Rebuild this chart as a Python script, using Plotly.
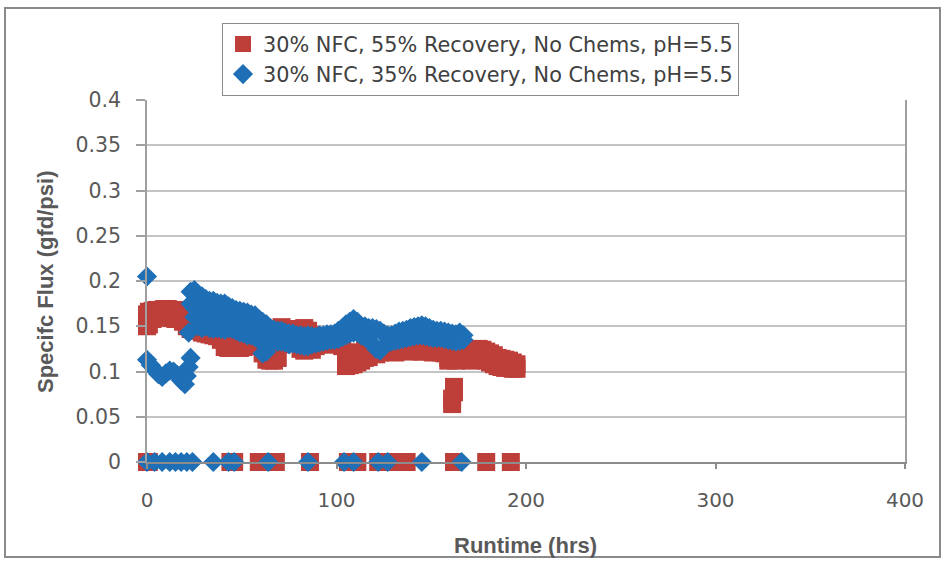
import plotly.graph_objects as go

# ---------------- data ----------------
series_names = ["30% NFC, 55% Recovery, No Chems, pH=5.5",
                "30% NFC, 35% Recovery, No Chems, pH=5.5"]

# Red series (55% recovery): runtimes with zero flux (shutdowns)
red_zero_hours = [0, 1, 44, 46, 59, 68, 86, 106, 111, 122, 125, 133, 137, 162, 179, 192]
# Red series: runtime -> specific flux readings
red_hours = [0, 1, 3, 5, 7, 9, 11, 13, 15, 17, 19, 21, 23, 25, 27, 29, 31, 33, 35, 37, 39,
             41, 43, 45, 47, 49, 51, 53, 55, 57, 59, 61, 63, 65, 67, 69, 71, 73, 75, 77, 79,
             81, 83, 85, 87, 89, 91, 93, 95, 97, 99, 101, 103, 105, 107, 109, 111, 113, 115,
             117, 119, 121, 123, 125, 127, 129, 131, 133, 135, 137, 139, 141, 143, 145, 147,
             149, 151, 153, 155, 157, 159, 161, 162, 163, 165, 167, 169, 171, 173, 175, 177,
             179, 181, 183, 185, 187, 189, 191, 193, 195]
red_flux = [[.150, .157, .163], [.152, .166], [.158, .167], [.160, .168], [.160, .168],
            [.161, .169], [.160, .169], [.159, .168], [.158, .168], [.158, .167], [.155, .165],
            [.150, .160], [.147, .157], [.145, .155], [.147], [.150, .143], [.142], [.141],
            [.140], [.139], [.135],
            [.127, .135], [.126, .134], [.126, .135], [.127, .136], [.126, .135], [.127, .134],
            [.128, .136], [.130, .140], [.132, .142], [.134, .145], [.120, .130], [.113, .125],
            [.112, .125], [.112, .122], [.115, .130], [.130, .149], [.135, .147], [.134],
            [.135], [.136],
            [.125, .147], [.123, .148], [.125, .145], [.124, .140], [.128, .135], [.130],
            [.130], [.131], [.130], [.131], [.130], [.128], [.106, .121], [.107, .120],
            [.108, .121], [.110, .120], [.112, .118], [.115, .123],
            [.116, .122], [.121], [.119], [.121], [.122], [.123], [.122], [.121], [.123],
            [.124], [.123], [.122], [.123], [.124], [.122], [.123],
            [.122], [.121], [.122], [.121], [.120], [.112, .115], [.113, .064, .070],
            [.077, .083], [.112], [.113], [.115], [.118], [.112, .122], [.114, .124],
            [.115, .125], [.113, .124],
            [.112, .122], [.110, .120], [.108, .118], [.106, .115], [.105, .114], [.104, .113],
            [.104, .112], [.103, .110], [.103, .108]]

# Blue series (35% recovery)
blue_zero_hours = [0, 4, 8, 12, 15, 18, 21, 24, 35, 43, 46, 64, 85, 104, 109, 122, 127, 145, 166]
blue_hours = [0, 2, 4, 6, 8, 10, 12, 14, 16, 18, 20, 21, 22, 23, 25, 27, 29, 31, 33, 35, 37,
              39, 41, 43, 45, 47, 49, 51, 53, 55, 57, 59, 61, 63, 65, 67, 69, 71, 73, 75, 77,
              79, 81, 83, 85, 87, 89, 91, 93, 95, 97, 99, 101, 103, 105, 107, 109, 111, 113,
              115, 117, 119, 121, 123, 125, 127, 129, 131, 133, 135, 137, 139, 141, 143, 145,
              147, 149, 151, 153, 155, 157, 159, 161, 163, 165, 167]
blue_flux = [[.205, .113], [.107], [.102], [.097], [.094], [.098], [.101], [.100], [.096],
             [.090], [.086], [.095], [.105, .143], [.115, .188, .175], [.190, .170, .160],
             [.185, .165, .150], [.183, .160, .148], [.180, .165, .150], [.178, .160, .148],
             [.178, .162, .147], [.176, .160, .148],
             [.175, .160, .147], [.175, .160, .146], [.172, .158, .148], [.170, .155, .147],
             [.168, .155, .145], [.167, .153, .143], [.166, .152, .142], [.165, .150, .140],
             [.163, .150, .140], [.162, .148, .138], [.158, .145, .135], [.155, .135, .120],
             [.152, .130, .122], [.148, .135], [.146, .135], [.145, .133], [.145, .133],
             [.143, .132], [.142, .130], [.142, .131],
             [.140, .130], [.140, .129], [.139, .128], [.140, .128], [.139, .130],
             [.138, .131], [.140, .132], [.140, .133], [.141, .134], [.141, .135],
             [.142, .135], [.145, .136], [.148, .138], [.152, .140], [.155, .142],
             [.158, .143], [.155, .143], [.150, .140],
             [.150, .138], [.148, .135], [.148, .130], [.147, .125], [.145, .123],
             [.142, .128], [.140, .132], [.140, .133], [.142, .134], [.144, .135],
             [.145, .136], [.146, .137], [.148, .138], [.149, .139], [.150, .140],
             [.151, .140],
             [.150, .139], [.148, .138], [.146, .137], [.145, .137], [.145, .137],
             [.144, .136], [.143, .135], [.142, .134], [.141, .133], [.143, .134],
             [.140, .135]]

x_ticks = [0, 100, 200, 300, 400]
y_ticks = [0, 0.05, 0.1, 0.15, 0.2, 0.25, 0.3, 0.35, 0.4]
y_tick_text = ["0", "0.05", "0.1", "0.15", "0.2", "0.25", "0.3", "0.35", "0.4"]

colors = ["#BE3F3A", "#1E6FB5"]


def expand(hours, flux, zero_hours):
    xs, ys = [], []
    for h, vals in zip(hours, flux):
        for v in vals:
            xs.append(h)
            ys.append(v)
    for h in zero_hours:
        xs.append(h)
        ys.append(0)
    return xs, ys


rx, ry = expand(red_hours, red_flux, red_zero_hours)
bx, by = expand(blue_hours, blue_flux, blue_zero_hours)

FONT = "DejaVu Sans, Liberation Sans, sans-serif"
TFONT = "Liberation Sans, Arial, sans-serif"

fig = go.Figure()
fig.add_trace(go.Scatter(x=rx, y=ry, mode="markers", name=series_names[0],
                         marker=dict(symbol="square", size=18, color=colors[0]),
                         cliponaxis=False))
fig.add_trace(go.Scatter(x=bx, y=by, mode="markers", name=series_names[1],
                         marker=dict(symbol="diamond", size=15.5, color=colors[1]),
                         cliponaxis=False))

W, H = 944, 561
L, R, T, B = 147, 39, 100, 99
pw, ph = W - L - R, H - T - B


def px_x(p):
    return (p - L) / pw


def px_y(p):
    return (H - B - p) / ph


fig.update_layout(
    width=W, height=H,
    margin=dict(l=L, r=R, t=T, b=B, pad=0),
    paper_bgcolor="white", plot_bgcolor="white",
    font=dict(family=FONT, size=20.5, color="#595959"),
    showlegend=True,
    legend=dict(x=px_x(222), y=px_y(23), xanchor="left", yanchor="top",
                bordercolor="#8C8C8C", borderwidth=1, bgcolor="white",
                font=dict(family=FONT, size=20.8, color="#404040"),
                tracegroupgap=0, itemwidth=30),
    xaxis=dict(range=[0, 400], tickvals=x_ticks, showgrid=False, zeroline=False,
               showline=True, linecolor="#8C8C8C", linewidth=1.5,
               ticks="outside", ticklen=5, tickcolor="#8C8C8C", tickwidth=1.5,
               ticklabelstandoff=14, tickfont=dict(family=FONT, size=20, color="#595959")),
    yaxis=dict(range=[0, 0.4], tickvals=y_ticks, ticktext=y_tick_text,
               showgrid=True, gridcolor="#C4C4C4", gridwidth=2, zeroline=False,
               showline=True, mirror=True, linecolor="#A0A0A0", linewidth=1.5,
               ticks="outside", ticklen=9, tickcolor="#A0A0A0", tickwidth=1.5,
               ticklabelstandoff=11, tickfont=dict(family=FONT, size=20.5, color="#595959")),
    annotations=[
        dict(text="<b>Specifc Flux (gfd/psi)</b>", x=px_x(45), y=px_y(282),
             xref="paper", yref="paper", textangle=-90, showarrow=False,
             xanchor="center", yanchor="middle",
             font=dict(family=TFONT, size=22, color="#595959")),
        dict(text="<b>Runtime (hrs)</b>", x=px_x(525), y=px_y(545),
             xref="paper", yref="paper", showarrow=False,
             xanchor="center", yanchor="middle",
             font=dict(family=TFONT, size=22, color="#595959")),
    ],
    shapes=[
        dict(type="rect", xref="paper", yref="paper",
             x0=px_x(5), x1=px_x(940), y0=px_y(557), y1=px_y(8),
             line=dict(color="#8A8A8A", width=2), fillcolor="rgba(0,0,0,0)",
             layer="below"),
    ],
)

fig.write_html("out.html")
